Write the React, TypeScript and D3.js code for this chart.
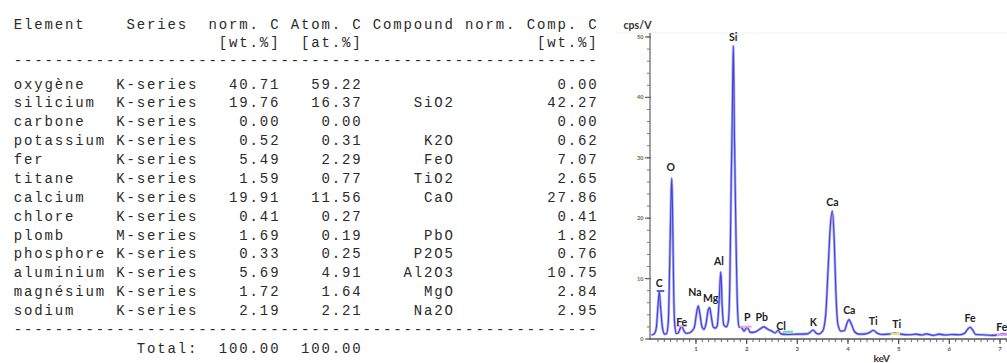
import React from 'react';
import * as d3 from 'd3';

// ---------- table data ----------
const elements = ['oxygène', 'silicium', 'carbone', 'potassium', 'fer', 'titane', 'calcium', 'chlore', 'plomb', 'phosphore', 'aluminium', 'magnésium', 'sodium'];
const seriesNames = ['K-series', 'K-series', 'K-series', 'K-series', 'K-series', 'K-series', 'K-series', 'K-series', 'M-series', 'K-series', 'K-series', 'K-series', 'K-series'];
const normC = [40.71, 19.76, 0.0, 0.52, 5.49, 1.59, 19.91, 0.41, 1.69, 0.33, 5.69, 1.72, 2.19];
const atomC = [59.22, 16.37, 0.0, 0.31, 2.29, 0.77, 11.56, 0.27, 0.19, 0.25, 4.91, 1.64, 2.21];
const compounds = ['', 'SiO2', '', 'K2O', 'FeO', 'TiO2', 'CaO', '', 'PbO', 'P2O5', 'Al2O3', 'MgO', 'Na2O'];
const compC = [0.0, 42.27, 0.0, 0.62, 7.07, 2.65, 27.86, 0.41, 1.82, 0.76, 10.75, 2.84, 2.95];
const totalNorm = 100.0;
const totalAtom = 100.0;
const headerLine1 = ['Element', 'Series', 'norm. C', 'Atom. C', 'Compound', 'norm.', 'Comp. C'];
const headerCols1 = [0, 11, 19, 27, 35, 44, 50];
const headerLine2 = ['[wt.%]', '[at.%]', '[wt.%]'];
const headerEnd2 = [25, 33, 56];

// ---------- spectrum data ----------
const specKeV = [0.12, 0.18, 0.22, 0.25, 0.277, 0.3, 0.34, 0.38, 0.42, 0.455, 0.48, 0.5, 0.522, 0.54, 0.56, 0.58, 0.61, 0.65, 0.69, 0.72, 0.76, 0.8, 0.86, 0.92, 0.97, 1.01, 1.045, 1.08, 1.12, 1.16, 1.2, 1.24, 1.27, 1.3, 1.34, 1.38, 1.42, 1.455, 1.49, 1.52, 1.55, 1.6, 1.64, 1.67, 1.695, 1.715, 1.737, 1.76, 1.78, 1.8, 1.825, 1.85, 1.9, 1.95, 2.01, 2.07, 2.13, 2.2, 2.27, 2.34, 2.42, 2.5, 2.56, 2.62, 2.68, 2.8, 3.0, 3.2, 3.25, 3.31, 3.37, 3.42, 3.5, 3.56, 3.61, 3.65, 3.69, 3.73, 3.76, 3.8, 3.86, 3.93, 3.98, 4.02, 4.07, 4.13, 4.22, 4.35, 4.43, 4.5, 4.57, 4.66, 4.8, 4.92, 5.0, 5.2, 5.35, 5.45, 5.55, 5.68, 5.8, 5.92, 6.05, 6.2, 6.3, 6.36, 6.41, 6.46, 6.52, 6.65, 6.85, 7.0, 7.06, 7.2];
const specCps = [0.65, 0.9, 2.0, 5.5, 7.9, 5.5, 1.8, 0.8, 0.9, 3.0, 12.0, 20.5, 26.6, 20.0, 8.0, 2.5, 0.9, 1.0, 1.8, 2.1, 1.4, 0.95, 1.0, 1.3, 2.0, 4.2, 5.5, 4.0, 2.0, 1.6, 2.6, 4.8, 5.2, 3.8, 2.0, 1.8, 2.2, 6.0, 11.1, 5.0, 2.3, 2.0, 3.0, 10.0, 26.0, 36.0, 48.5, 33.0, 22.0, 12.0, 4.0, 2.0, 1.9, 1.3, 2.0, 1.1, 1.1, 1.3, 1.7, 2.0, 1.6, 1.3, 1.0, 1.4, 0.85, 0.75, 0.8, 0.85, 1.1, 1.5, 1.0, 0.8, 1.3, 4.0, 12.0, 18.5, 21.2, 16.0, 8.0, 2.5, 1.3, 1.4, 2.6, 3.2, 2.4, 1.2, 0.8, 0.85, 1.1, 1.45, 1.0, 0.75, 0.8, 0.95, 0.85, 0.7, 0.8, 0.65, 0.85, 0.6, 0.8, 0.65, 0.75, 0.7, 0.95, 1.6, 1.95, 1.5, 0.75, 0.7, 0.6, 0.75, 0.8, 0.65];

const peakLabels = ['C', 'O', 'Fe', 'Na', 'Mg', 'Al', 'Si', 'P', 'Pb', 'Cl', 'K', 'Ca', 'Ca', 'Ti', 'Ti', 'Fe', 'Fe'];
const peakLabelKeV = [0.276, 0.501, 0.718, 0.981, 1.291, 1.455, 1.737, 2.013, 2.297, 2.678, 3.316, 3.691, 4.026, 4.5, 4.96, 6.408, 7.034];
const peakLabelCps = [9.2, 28.5, 2.86, 7.83, 6.74, 12.9, 50.05, 3.69, 3.69, 2.2, 2.86, 22.73, 4.8, 2.98, 2.48, 3.53, 2.04];

const markerFrom = [0.225, 0.62, 1.869, 2.718, 4.843, 6.935];
const markerTo = [0.375, 0.817, 2.1, 2.915, 5.027, 7.132];
const markerCps = [7.95, 2.15, 2.04, 1.2, 0.83, 0.66];
const markerColors = ['#5a5af0', '#f5a3d6', '#f5a3d6', '#6fd6a6', '#ece45a', '#e4a0ee'];

const yTickValues = [0, 10, 20, 30, 40, 50];
const xTickValues = [1, 2, 3, 4, 5, 6, 7];

export default function App() {
  // table grid
  const pitch = 10.26;
  const col = d3.scaleLinear().domain([0, 57]).range([12.7, 12.7 + 57 * pitch]);
  const fs = 14;
  const ls = pitch - 0.6 * fs;
  const rowY = d3.scaleLinear().domain([0, elements.length - 1]).range([84.5, 311]);
  const mono = "'Liberation Mono', 'DejaVu Sans Mono', monospace";
  const fmt = d3.format('.2f');

  const cell = (txt: string, startCol: number, y: number, key: string) => (
    <text key={key} x={col(startCol) + ls / 2} y={y} dominantBaseline="central" fontFamily={mono} fontSize={fs} letterSpacing={ls} fill="#2a2a2a" style={{ whiteSpace: 'pre' }}>{txt}</text>
  );
  const rcell = (txt: string, endCol: number, y: number, key: string) => cell(txt, endCol - txt.length + 1, y, key);

  const tableEls: React.ReactNode[] = [];
  headerLine1.forEach((h, i) => tableEls.push(cell(h, headerCols1[i], 25, 'h1' + i)));
  headerLine2.forEach((h, i) => tableEls.push(rcell(h, headerEnd2[i], 43.3, 'h2' + i)));
  tableEls.push(cell('-'.repeat(57), 0, 61, 'd1'));
  elements.forEach((el, i) => {
    const y = rowY(i);
    tableEls.push(cell(el, 0, y, 'e' + i));
    tableEls.push(cell(seriesNames[i], 10, y, 's' + i));
    tableEls.push(rcell(fmt(normC[i]), 25, y, 'n' + i));
    tableEls.push(rcell(fmt(atomC[i]), 33, y, 'a' + i));
    if (compounds[i]) tableEls.push(rcell(compounds[i], 42, y, 'c' + i));
    tableEls.push(rcell(fmt(compC[i]), 56, y, 'cc' + i));
  });
  tableEls.push(cell('-'.repeat(57), 0, 330, 'd2'));
  tableEls.push(rcell('Total:', 17, 349.3, 'tt'));
  tableEls.push(rcell(fmt(totalNorm), 25, 349.3, 'tn'));
  tableEls.push(rcell(fmt(totalAtom), 33, 349.3, 'ta'));

  // spectrum
  const x = d3.scaleLinear().domain([0, 7]).range([645.3, 1000]);
  const y = d3.scaleLinear().domain([0, 50]).range([339, 37]);
  const axisX0 = 650;
  const pts = specKeV.map((k, i) => [k, specCps[i]] as [number, number]);
  const line = d3.line<[number, number]>().x(d => x(d[0])).y(d => y(d[1])).curve(d3.curveMonotoneX);
  const sans = "Lato, 'Open Sans', sans-serif";

  const yMinor = d3.range(0, 51, 2);
  const xMinor = d3.range(0.125, 7.2, 0.125).filter(v => x(v) > axisX0 + 2 && x(v) < 1007);

  return (
    <svg width={1007} height={363} style={{ position: 'absolute', left: 0, top: 0, background: '#fff' }}>
      <rect x={0} y={0} width={1007} height={363} fill="#fff" />
      <g>{tableEls}</g>

      <line x1={615} x2={1007} y1={33} y2={33} stroke="#f1f1f1" strokeWidth={1} />
      <text x={637.5} y={24.5} textAnchor="middle" dominantBaseline="central" fontFamily={sans} fontWeight={700} fontSize={10.5} fill="#333">cps/V</text>

      {/* y axis */}
      <line x1={axisX0} x2={axisX0} y1={33} y2={y(0)} stroke="#777" strokeWidth={1.4} />
      {yMinor.map(v => (
        <line key={'ym' + v} x1={axisX0 - 3} x2={axisX0} y1={y(v)} y2={y(v)} stroke="#777" strokeWidth={1} />
      ))}
      {yTickValues.map(v => (
        <g key={'yt' + v}>
          <line x1={axisX0 - 5} x2={axisX0 + 1} y1={y(v)} y2={y(v)} stroke="#666" strokeWidth={1.2} />
          <text x={643.5} y={y(v)} textAnchor="end" dominantBaseline="central" fontFamily={sans} fontWeight={700} fontSize={5.5} fill="#7a5d2e">{v}</text>
        </g>
      ))}

      {/* x axis */}
      <line x1={axisX0} x2={1007} y1={y(0)} y2={y(0)} stroke="#555" strokeWidth={1.3} />
      {xMinor.map((v, i) => (
        <line key={'xm' + i} x1={x(v)} x2={x(v)} y1={y(0)} y2={y(0) + 3} stroke="#666" strokeWidth={1} />
      ))}
      {xTickValues.map(v => (
        <g key={'xt' + v}>
          <line x1={x(v)} x2={x(v)} y1={y(0)} y2={y(0) + 5} stroke="#555" strokeWidth={1.2} />
          <text x={x(v)} y={348.5} textAnchor="middle" dominantBaseline="central" fontFamily={sans} fontWeight={700} fontSize={6} fill="#555">{v}</text>
        </g>
      ))}
      <text x={881.7} y={357.5} textAnchor="middle" dominantBaseline="central" fontFamily={sans} fontWeight={700} fontSize={10} fill="#333">keV</text>

      {/* spectrum */}
      <path d={line(pts) || ''} fill="none" stroke="#a8a8f2" strokeWidth={2.6} strokeLinejoin="round" />
      <path d={line(pts) || ''} fill="none" stroke="#4040dc" strokeWidth={1.1} strokeLinejoin="round" />

      {markerFrom.map((k, i) => (
        <line key={'mk' + i} x1={x(k)} x2={x(markerTo[i])} y1={y(markerCps[i])} y2={y(markerCps[i])} stroke={markerColors[i]} strokeWidth={2} />
      ))}

      {peakLabels.map((t, i) => (
        <text key={'pl' + i} x={x(peakLabelKeV[i])} y={y(peakLabelCps[i])} textAnchor="middle" dominantBaseline="central" fontFamily={sans} fontWeight={700} fontSize={10.5} fill="#222">{t}</text>
      ))}
    </svg>
  );
}
